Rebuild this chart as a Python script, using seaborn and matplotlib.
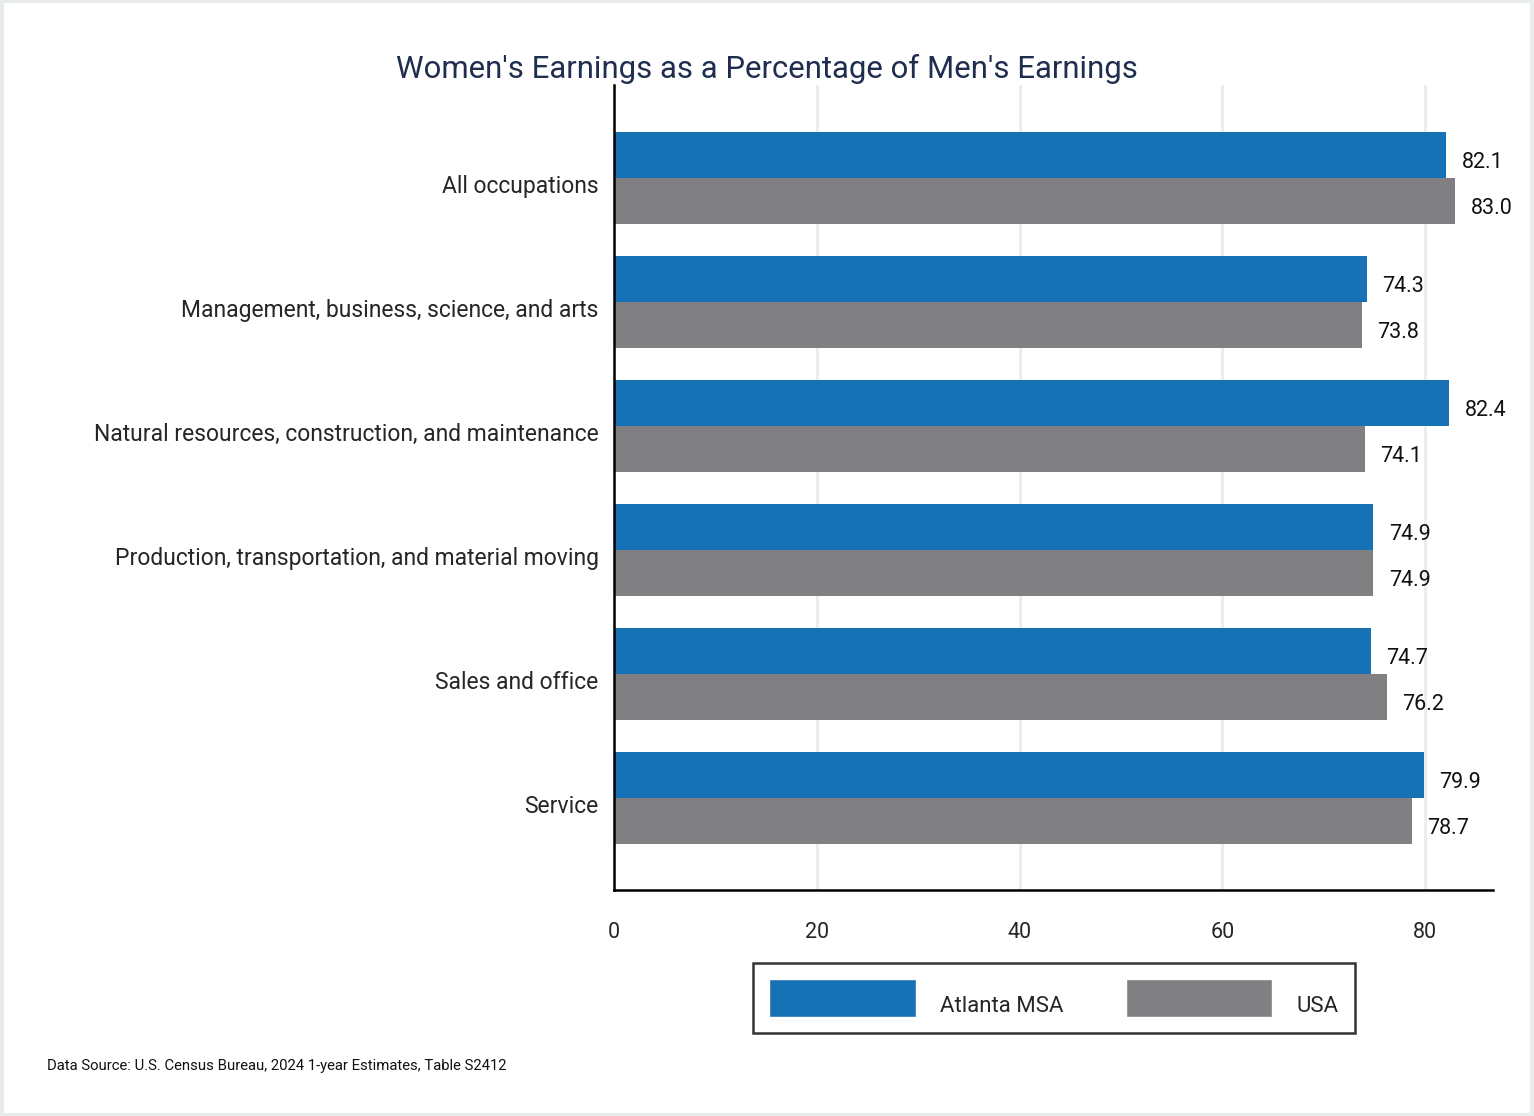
import matplotlib
matplotlib.use("Agg")
import matplotlib.pyplot as plt
import matplotlib.transforms as mtrans
import seaborn as sns
import pandas as pd
from matplotlib.patches import Rectangle

# data
occupations = [
    "All occupations",
    "Management, business, science, and arts",
    "Natural resources, construction, and maintenance",
    "Production, transportation, and material moving",
    "Sales and office",
    "Service",
]
atlanta = [82.1, 74.3, 82.4, 74.9, 74.7, 79.9]
usa = [83.0, 73.8, 74.1, 74.9, 76.2, 78.7]
series = ["Atlanta MSA", "USA"]
x_ticks = [0, 20, 40, 60, 80]

blue = "#1771b5"
grey = "#807f82"

sns.set_theme(style="white")
plt.rcParams["font.family"] = ["Roboto", "DejaVu Sans"]

df = pd.DataFrame({
    "occupation": occupations * 2,
    "value": atlanta + usa,
    "area": [series[0]] * len(occupations) + [series[1]] * len(occupations),
})

fig = plt.figure(figsize=(15.34, 11.16), dpi=100)
ax = fig.add_axes([614 / 1534, 1 - 890 / 1116, (1493 - 614) / 1534, (890 - 85) / 1116])

sns.barplot(data=df, y="occupation", x="value", hue="area", orient="h",
            palette=[blue, grey], width=0.742, gap=0, ax=ax, legend=False,
            saturation=1, errorbar=None, linewidth=0)

for cont in ax.containers:
    labels = ax.bar_label(cont, fmt="%.1f", padding=11, fontsize=15.5, color="#111111")
    for lab in labels:
        lab.xyann = (11, -5.5)

ax.set_xlim(0, 86.7)
ax.set_ylim(5.74, -0.75)
ax.set_xticks(x_ticks)
ax.set_xticklabels([str(t) for t in x_ticks], fontsize=15.5)
ax.tick_params(axis="x", direction="out", length=11, width=1.8, color="black", pad=12)
ax.tick_params(axis="y", length=0, pad=11, labelsize=16.5)
# category labels sit a little below the pair centre in the original
shift = mtrans.ScaledTranslation(0, -6 / 100, fig.dpi_scale_trans)
for lab in ax.get_yticklabels():
    lab.set_transform(lab.get_transform() + shift)
ax.set_xlabel("")
ax.set_ylabel("")
ax.grid(axis="x", color="#e6eeee", linewidth=2)
ax.set_axisbelow(True)
for side in ["top", "right"]:
    ax.spines[side].set_visible(False)
for side in ["left", "bottom"]:
    ax.spines[side].set_color("black")
    ax.spines[side].set_linewidth(1.8)

fig.text(0.5, 1 - 69 / 1116, "Women's Earnings as a Percentage of Men's Earnings",
         ha="center", va="center", fontsize=22.4, color="#1f2d4e")

handles = [Rectangle((0, 0), 1, 1, facecolor=blue), Rectangle((0, 0), 1, 1, facecolor=grey)]
leg = fig.legend(handles, series, loc="center", bbox_to_anchor=(1054 / 1534, 1 - 998 / 1116),
                 ncol=2, fontsize=16, frameon=True, fancybox=False,
                 handlelength=6.6, handleheight=2.3, handletextpad=1.1,
                 columnspacing=2.8, borderpad=0.7, borderaxespad=0)
leg.get_frame().set_edgecolor("black")
leg.get_frame().set_linewidth(1.8)
# legend labels sit low, near the bottom of the swatches
leg_shift = mtrans.ScaledTranslation(0, -7 / 100, fig.dpi_scale_trans)
for t in leg.get_texts():
    t.set_transform(t.get_transform() + leg_shift)

fig.text(47 / 1534, 1 - 1066 / 1116, "Data Source: U.S. Census Bureau, 2024 1-year Estimates, Table S2412",
         ha="left", va="center", fontsize=10.7, color="#111111")

# light border round the whole picture
fig.patches.append(Rectangle((0.001, 0.001), 0.998, 0.998, transform=fig.transFigure,
                             fill=False, edgecolor="#e8ecec", linewidth=3))

fig.savefig("out.png", dpi=100)
